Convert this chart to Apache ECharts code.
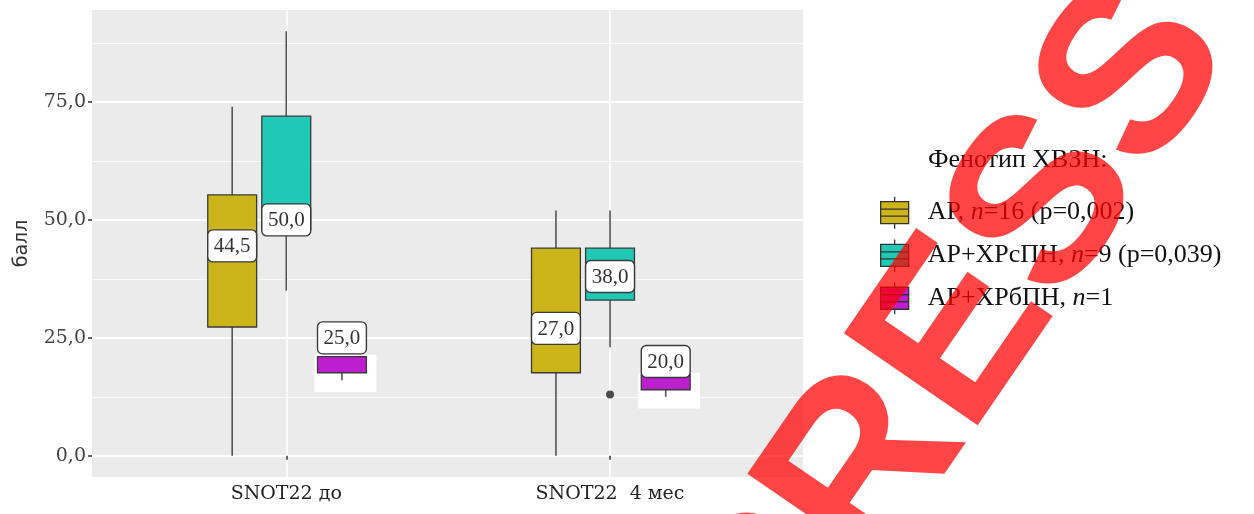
<!DOCTYPE html>
<html>
<head>
<meta charset="utf-8">
<script src="https://cdn.jsdelivr.net/npm/echarts@6/dist/echarts.min.js"></script>
<style>
  html, body { margin: 0; padding: 0; background: #ffffff; }
  #chart { width: 1254px; height: 514px; }
</style>
</head>
<body>
<div id="chart"></div>
<script>
// Categories on the x axis
const categories = ['SNOT22 до', 'SNOT22  4 мес'];

// Phenotype groups (legend entries)
const groupNames = [
  'АР, n=16 (p=0,002)',
  'АР+ХРсПН, n=9 (p=0,039)',
  'АР+ХРбПН, n=1'
];

// Box statistics per category: [min, Q1, median, Q3, max]
const statsAR      = [[0, 27.3, 44.5, 55.3, 74], [0, 17.6, 27.0, 44.0, 52]];
const statsARXRs   = [[35, 48.0, 50.0, 72.0, 90], [23, 33.0, 38.0, 44.0, 52]];
const statsARXRb   = [[16, 17.6, 25.0, 21.0, 21], [12.5, 14.0, 20.0, 17.2, 17.2]];

// Outliers: [category position, value]
const outliersARXRs = [[2, 13]];

// Y axis tick values
const yTicks = [0, 25, 50, 75];
const yMinorTicks = [12.5, 37.5, 62.5, 87.5];

const groupColors = ['#cbb51b', '#1fc9b5', '#bd1fce'];
const dodge = [-0.167, 0, 0.172];
const boxWidth = 0.151;
const serif = '"Liberation Serif", "Times New Roman", serif';
const wideSerif = '"DejaVu Serif", serif';

const fmt = v => v.toFixed(1).replace('.', ',');

function renderBox(params, api) {
  const si = params.seriesIndex;
  const x = api.value(0) + dodge[si];
  const low = api.value(1), q1 = api.value(2), med = api.value(3), q3 = api.value(4), high = api.value(5);
  const w = api.size([boxWidth, 0])[0];
  const cx = api.coord([x, 0])[0];
  const y = v => api.coord([x, v])[1];
  const children = [];
  if (si === 2) {
    // pale backing behind the single-case box
    children.push({
      type: 'rect',
      shape: { x: cx - w / 2 - 3, y: y(q3) - 2, width: w + 13, height: y(low - 2.5) - y(q3) + 2 },
      style: { fill: '#ffffff' }
    });
  }
  // whiskers
  children.push({
    type: 'line',
    shape: { x1: cx, y1: y(high), x2: cx, y2: y(q3) },
    style: { stroke: '#555555', lineWidth: 1.6 }
  });
  children.push({
    type: 'line',
    shape: { x1: cx, y1: y(q1), x2: cx, y2: y(low) },
    style: { stroke: '#555555', lineWidth: 1.6 }
  });
  // box
  children.push({
    type: 'rect',
    shape: { x: cx - w / 2, y: y(q3), width: w, height: y(q1) - y(q3) },
    style: { fill: groupColors[si], stroke: '#3a3a3a', lineWidth: 1.3 }
  });
  // median label
  const lh = 32;
  children.push({
    type: 'rect',
    shape: { x: cx - w / 2, y: y(med) - lh / 2, width: w, height: lh, r: 5 },
    style: { fill: '#ffffff', stroke: '#3a3a3a', lineWidth: 1.4 }
  });
  children.push({
    type: 'text',
    x: cx, y: y(med) + 1,
    style: {
      text: fmt(med), fill: '#333333', font: '21px ' + serif,
      align: 'center', verticalAlign: 'middle'
    }
  });
  return { type: 'group', children };
}

const allStats = [statsAR, statsARXRs, statsARXRb];
const boxSeries = allStats.map((stats, si) => ({
  name: groupNames[si],
  type: 'custom',
  renderItem: renderBox,
  itemStyle: { color: groupColors[si], borderColor: '#333333', borderWidth: 1 },
  encode: { x: 0, y: [1, 2, 3, 4, 5] },
  data: stats.map((s, ci) => [ci + 1, ...s]),
  z: 3
}));

// boxplot key: whisker stubs, box, two inner rules
const legendIcon = 'path://M15,0 L15,5 M1,5 L29,5 L29,27 L1,27 Z M1,12.5 L29,12.5 M1,19.5 L29,19.5 M15,27 L15,32';

const chart = echarts.init(document.getElementById('chart'), null, { renderer: 'canvas' });
chart.setOption({
  animation: false,
  backgroundColor: '#ffffff',
  grid: {
    left: 92, right: 451, top: 10, bottom: 37,
    show: true, backgroundColor: '#ebebeb', borderWidth: 0
  },
  title: {
    text: 'Фенотип ХВЗН:',
    left: 923, top: 142,
    textStyle: { fontFamily: serif, fontSize: 26, fontWeight: 'normal', color: '#111111' }
  },
  legend: {
    data: groupNames.map((n, i) => ({
      name: n, icon: legendIcon,
      itemStyle: { color: groupColors[i], borderColor: '#333333', borderWidth: 1.3 }
    })),
    orient: 'vertical',
    left: 875, top: 191,
    itemWidth: 30, itemHeight: 32, itemGap: 9.5,
    formatter: name => name.replace('n=', '{i|n}='),
    textStyle: {
      fontFamily: serif, fontSize: 26, color: '#111111', padding: [0, 0, 0, 13],
      rich: { i: { fontFamily: serif, fontSize: 26, fontStyle: 'italic', color: '#111111' } }
    }
  },
  xAxis: {
    type: 'value', min: 0.4, max: 2.596,
    axisLine: { show: false },
    axisTick: { show: true, customValues: [1, 2], length: 4, lineStyle: { color: '#333333', width: 1.5 } },
    axisLabel: {
      customValues: [1, 2], formatter: v => categories[Math.round(v) - 1],
      fontFamily: wideSerif, fontSize: 19, color: '#222222', margin: 8
    },
    splitLine: { show: true, lineStyle: { color: '#ffffff', width: 1.5 } }
  },
  yAxis: [{
    type: 'value', min: -4.5, max: 94.5,
    name: 'балл', nameLocation: 'middle', nameGap: 60,
    nameTextStyle: { fontFamily: '"DejaVu Sans", sans-serif', fontSize: 19, color: '#333333' },
    axisLine: { show: false },
    axisTick: { show: true, customValues: yTicks, length: 4, lineStyle: { color: '#333333', width: 1.5 } },
    axisLabel: {
      customValues: yTicks, formatter: v => fmt(v),
      fontFamily: wideSerif, fontSize: 19, color: '#444444', margin: 6
    },
    splitLine: { show: true, lineStyle: { color: '#ffffff', width: 2.2 } }
  }, {
    type: 'value', min: -4.5, max: 94.5, position: 'left',
    axisLine: { show: false },
    axisTick: { show: false, customValues: yMinorTicks },
    axisLabel: { show: false },
    splitLine: { show: true, lineStyle: { color: '#fafafa', width: 1.2 } }
  }],
  series: [
    ...boxSeries,
    {
      name: 'outliers',
      type: 'scatter',
      data: outliersARXRs,
      symbol: 'circle', symbolSize: 8,
      itemStyle: { color: '#222222' },
      z: 4
    }
  ],
  graphic: [{
    type: 'text',
    x: 956, y: 342,
    rotation: 55.5 * Math.PI / 180,
    z: 100,
    silent: true,
    style: {
      text: 'PRESS',
      font: 'bold 236px "Liberation Sans", Arial, sans-serif',
      fill: 'rgba(255, 0, 0, 0.73)',
      align: 'center', verticalAlign: 'middle'
    }
  }]
});
</script>
</body>
</html>
